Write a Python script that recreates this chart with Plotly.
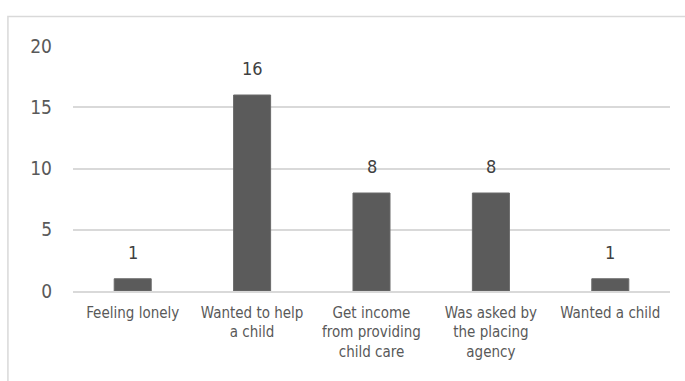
import plotly.graph_objects as go

# Reasons given for becoming a caregiver
categories = [
    "Feeling lonely",
    "Wanted to help<br>a child",
    "Get income<br>from providing<br>child care",
    "Was asked by<br>the placing<br>agency",
    "Wanted a child",
]
counts = [1, 16, 8, 8, 1]
y_ticks = [0, 5, 10, 15, 20]

FONT = "DejaVu Sans Condensed, Liberation Sans Narrow, Roboto, sans-serif"

fig = go.Figure(
    go.Bar(
        x=categories,
        y=counts,
        marker=dict(color="#5b5b5b", line=dict(color="#6a6a6a", width=1)),
        hoverinfo="skip",
    )
)

# value labels above each bar
for cat, val in zip(categories, counts):
    fig.add_annotation(
        x=cat, y=val, text=str(val), showarrow=False,
        yanchor="bottom", yshift=14,
        font=dict(family=FONT, size=18, color="#404040"),
    )

# chart frame (left and top edges visible)
fig.add_shape(
    type="rect", xref="paper", yref="paper",
    x0=-0.109, x1=1.2, y0=-0.6, y1=1.12,
    line=dict(color="#d9d9d9", width=1.5), fillcolor="rgba(0,0,0,0)",
    layer="below",
)

fig.update_layout(
    width=685, height=381,
    margin=dict(l=73, r=15, t=45.5, b=89.5),
    paper_bgcolor="white", plot_bgcolor="white",
    bargap=0.69,
    showlegend=False,
    font=dict(family=FONT, size=15, color="#595959"),
)
fig.update_xaxes(
    showgrid=False, showline=True, linecolor="#d9d9d9", linewidth=1.5,
    ticks="", tickfont=dict(family=FONT, size=15, color="#595959"),
    ticklabelstandoff=7,
)
fig.update_yaxes(
    range=[0, 20], tickvals=y_ticks, showgrid=True,
    gridcolor="#d9d9d9", gridwidth=1.5, zeroline=False,
    showline=False, ticks="",
    tickfont=dict(family=FONT, size=19, color="#595959"),
    ticklabelstandoff=20,
)

fig.write_html("out.html")
